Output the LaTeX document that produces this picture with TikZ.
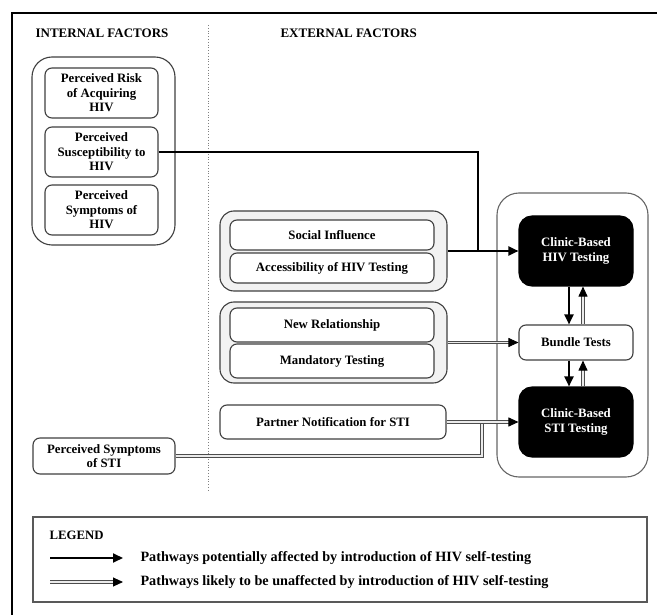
\documentclass[tikz,border=0pt]{standalone}
\usepackage{fontspec}
\setmainfont{Liberation Serif}
\usepackage{xcolor}
\usetikzlibrary{arrows.meta, positioning}

\definecolor{edgegray}{HTML}{3F3F3F}
\definecolor{grpfill}{HTML}{F2F2F2}

\begin{document}
\begin{tikzpicture}[
    x=1pt, y=-1pt,
    every node/.style={font=\bfseries\fontsize{12.8}{14.5}\selectfont},
    box/.style={rectangle, draw=edgegray, line width=1.1pt, rounded corners=7pt, fill=white, align=center, inner sep=1pt},
    grpbox/.style={draw=edgegray, line width=1.1pt, rounded corners=14pt},
    darkbox/.style={box, fill=black, draw=black, text=white, rounded corners=13pt},
    arrow/.style={-{Triangle[length=10pt, width=9pt]}, line width=2pt},
    dblarrow/.style={-{Triangle[length=10pt, width=9pt, black]}, draw=black!70, line width=0.9pt, double=black!8, double distance=1.6pt},
    dblline/.style={draw=black!70, line width=0.9pt, double=black!8, double distance=1.6pt},
    legtext/.style={anchor=west, font=\bfseries\fontsize{14.2}{16}\selectfont}
  ]
    \useasboundingbox (0,0) rectangle (657,615);

    % frame and headings
    \draw[line width=1.5pt] (12,615) -- (12,13) -- (657,13);
    \node[font=\bfseries\fontsize{13}{15}\selectfont] (inthead) at (102,33) {INTERNAL FACTORS};
    \node[anchor=west, font=\bfseries\fontsize{13}{15}\selectfont] (exthead) at (277,33) {EXTERNAL FACTORS};
    \draw[gray, dotted, line width=0.8pt] (208,25) -- (208,492);

    % internal factors
    \draw[grpbox, rounded corners=20pt] (32,57) rectangle (175,245);
    \node[box, minimum width=113pt, minimum height=50pt] (risk) at (101.5,93) {Perceived Risk\\of Acquiring\\HIV};
    \node[box, minimum width=113pt, minimum height=50pt] (susc) at (101.5,152) {Perceived\\Susceptibility to\\HIV};
    \node[box, minimum width=113pt, minimum height=50pt] (symhiv) at (101.5,210) {Perceived\\Symptoms of\\HIV};
    \node[box, minimum width=142pt, minimum height=36pt] (symsti) at (104,456) {Perceived Symptoms\\of STI};

    % external factors
    \node[grpbox, fill=grpfill, minimum width=227pt, minimum height=80pt] (socgrp) at (333.5,251) {};
    \node[box, minimum width=204pt, minimum height=30pt] (social) at (332,235) {Social Influence};
    \node[box, minimum width=204pt, minimum height=30pt] (access) at (332,268) {Accessibility of HIV Testing};
    \node[grpbox, fill=grpfill, minimum width=227pt, minimum height=81pt] (relgrp) at (333.5,342.5) {};
    \node[box, minimum width=204pt, minimum height=34pt] (newrel) at (332,325) {New Relationship};
    \node[box, minimum width=204pt, minimum height=34pt] (mandat) at (332,361) {Mandatory Testing};
    \node[box, minimum width=226pt, minimum height=34pt] (partner) at (333,422) {Partner Notification for STI};

    % clinic-based testing
    \draw[grpbox, draw=black!60, rounded corners=22pt] (497,193) rectangle (648,477);
    \node[darkbox, minimum width=114pt, minimum height=70pt] (clinhiv) at (576,251) {Clinic-Based\\HIV Testing};
    \node[box, minimum width=114pt, minimum height=35pt] (bundle) at (576,342.5) {Bundle Tests};
    \node[darkbox, minimum width=114pt, minimum height=70pt] (clinsti) at (576,422) {Clinic-Based\\STI Testing};

    \coordinate (join) at (478,251);
    \coordinate (merge) at (482,422);

    \draw[line width=2pt] (susc.east) -| (join);
    \draw[arrow] (socgrp.east) -- (clinhiv.west);
    \draw[dblarrow] (relgrp.east) -- (bundle.west);
    \draw[dblline] (symsti.east) -| (merge);
    \draw[dblarrow] (partner.east) -- (clinsti.west);

    \draw[arrow] ([xshift=-7pt]clinhiv.south) -- ([xshift=-7pt]bundle.north);
    \draw[dblarrow] ([xshift=7pt]bundle.north) -- ([xshift=7pt]clinhiv.south);
    \draw[arrow] ([xshift=-7pt]bundle.south) -- ([xshift=-7pt]clinsti.north);
    \draw[dblarrow] ([xshift=7pt]clinsti.north) -- ([xshift=7pt]bundle.south);

    % legend
    \draw[draw=black!65, line width=1.1pt] (33,517) rectangle (647,602);
    \node[anchor=west] (leghead) at (46,535) {LEGEND};
    \coordinate (l1a) at (50,558);
    \coordinate (l1b) at (123,558);
    \coordinate (l2a) at (50,582);
    \coordinate (l2b) at (123,582);
    \draw[arrow] (l1a) -- (l1b);
    \draw[dblarrow] (l2a) -- (l2b);
    \node[legtext] (leg1) at (137,558) {Pathways potentially affected by introduction of HIV self-testing};
    \node[legtext] (leg2) at (137,582) {Pathways likely to be unaffected by introduction of HIV self-testing};
  \end{tikzpicture}
\end{document}
